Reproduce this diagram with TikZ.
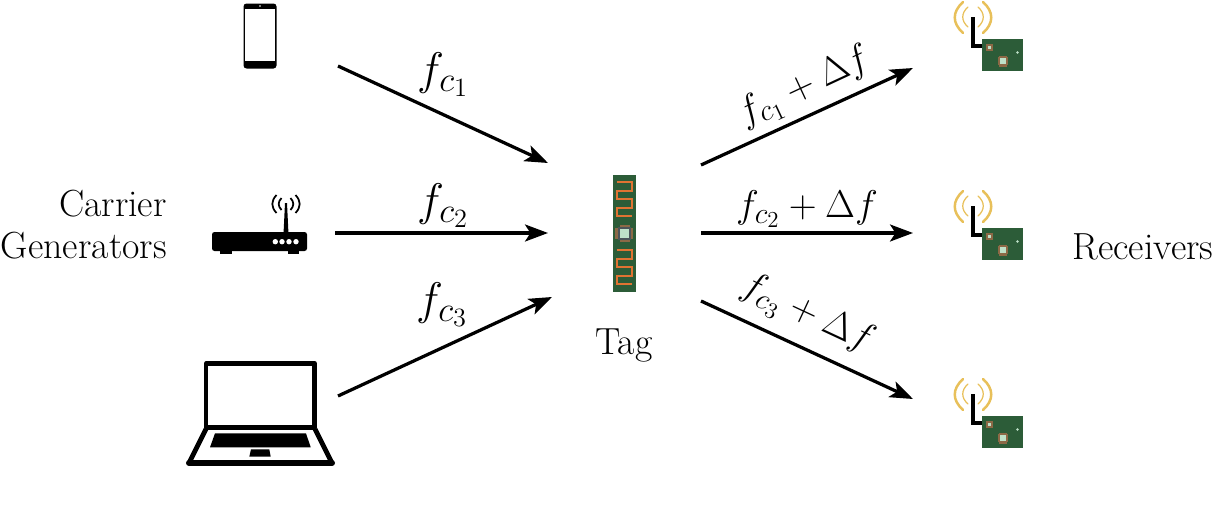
\documentclass[tikz,border=0pt]{standalone}
\usepackage{fix-cm}
\usetikzlibrary{arrows.meta}
\DeclareMathSizes{26}{26}{20}{15}
\DeclareMathSizes{22}{22}{17}{13}
\definecolor{pcbgreen}{RGB}{44,92,56}
\definecolor{traceorange}{RGB}{225,115,50}
\definecolor{waveyellow}{RGB}{232,192,90}
\definecolor{padbrown}{RGB}{140,105,70}
\definecolor{padbase}{RGB}{75,85,90}
\definecolor{chiplight}{RGB}{190,225,200}
\tikzset{
	link/.style={line width=0.065cm, -{Stealth[length=0.46cm,width=0.34cm,inset=0.11cm]}},
	lbl/.style={font=\fontsize{21.5}{24}\selectfont, inner sep=0pt, align=right},
	flbl/.style={font=\fontsize{26}{30}\selectfont, inner sep=0pt},
	dlbl/.style={font=\fontsize{22}{26}\selectfont, inner sep=0pt},
	wave/.style={draw=waveyellow, line width=0.05cm, line cap=round},
	radio/.style={line width=0.035cm},
	pics/receiver/.style={code={
		\draw [wave] (-7,-30) .. controls (-18,-20) and (-18,-9) .. (-7,1);
		\draw [wave] (13,-30) .. controls (24,-20) and (24,-9) .. (13,1);
		\draw [wave, line width=0.025cm] (-2,-25) .. controls (-9,-19) and (-9,-11) .. (-2,-5);
		\draw [wave, line width=0.025cm] (8,-25) .. controls (15,-19) and (15,-11) .. (8,-5);
		\draw [line width=0.08cm] (3,-15) -- (3,14) -- (13,14);
		\fill [pcbgreen] (12,7) rectangle (53,39);
		\fill [padbrown] (15.5,11.5) rectangle (22.5,18.5);
		\fill [chiplight] (17.5,13.5) rectangle (20.5,16.5);
		\fill [padbrown] (29,23.5) rectangle (36.5,34.5);
		\fill [padbrown] (27.5,25) rectangle (38,33);
		\fill [chiplight] (30,26) rectangle (35.5,32);
		\fill [chiplight] (47.5,20.5) circle (1.3);
	}}
}
\begin{document}
\begin{tikzpicture}[x=0.02cm, y=-0.02cm]
	\useasboundingbox (0,0) rectangle (1214,507);

	% phone
	\fill [rounded corners=0.06cm] (243.5,3.5) rectangle (276.5,68.5);
	\fill [white] (245,9) rectangle (274.7,60.7);
	\fill [white] (260,6) circle (0.9);

	% router
	\fill [rounded corners=0.05cm] (212,232) rectangle (307,251);
	\fill (220,250) rectangle (232,254);
	\fill (288,250) rectangle (299,254);
	\fill (283.6,232) -- (285,203) -- (287,203) -- (288.4,232) -- cycle;
	\foreach \dotx in {275.3,282,289,296} \fill [white] (\dotx,241.7) circle (2.7);
	\draw [radio] (276.5,195) .. controls (270.9,201) and (270.9,207) .. (276.5,213);
	\draw [radio] (295.5,195) .. controls (301.1,201) and (301.1,207) .. (295.5,213);
	\draw [radio] (281.5,198) .. controls (277.8,202) and (277.8,206) .. (281.5,210);
	\draw [radio] (290.5,198) .. controls (294.2,202) and (294.2,206) .. (290.5,210);

	% laptop
	\draw [line width=0.09cm, line join=round] (206.2,363.3) rectangle (314.7,427.5);
	\draw [line width=0.095cm, line join=round] (206,429) -- (189,463) -- (332,463) -- (315,429);
	\draw [line width=0.12cm, line cap=round] (189,463) -- (332,463);
	\fill (215,433.3) -- (306,433.3) -- (310.7,447.3) -- (210,447.3) -- cycle;
	\fill (251,449.3) -- (269.3,449.3) -- (270.7,456.7) -- (249.3,456.7) -- cycle;

	% tag
	\fill [pcbgreen] (612.7,175) rectangle (636,292);
	\draw [traceorange, line width=0.035cm] (616.7,182) -- (631.7,182) -- (631.7,190.7) -- (616.7,190.7) -- (616.7,199) -- (631.7,199) -- (631.7,207.7) -- (616.7,207.7) -- (616.7,216) -- (631.7,216);
	\draw [traceorange, line width=0.035cm] (616.7,250) -- (631.7,250) -- (631.7,259) -- (616.7,259) -- (616.7,267.3) -- (631.7,267.3) -- (631.7,275.7) -- (616.7,275.7) -- (616.7,284.3) -- (631.7,284.3);
	\fill [padbrown] (619.5,225) rectangle (629.5,227.7);
	\fill [padbrown] (619.5,239.3) rectangle (629.5,242);
	\fill [padbrown] (615.3,228) rectangle (618,238.5);
	\fill [padbrown] (630.7,228) rectangle (633.3,238.5);
	\fill [padbase] (617.8,226.8) rectangle (630.8,239.8);
	\fill [chiplight] (619.8,228.8) rectangle (628.8,237.8);

	% receivers
	\pic at (970,32) {receiver};
	\pic at (970,221) {receiver};
	\pic at (970,409) {receiver};

	% link ends
	\coordinate (s1) at (338,66);
	\coordinate (s2) at (335,233);
	\coordinate (s3) at (338,396);
	\coordinate (t1) at (548,163);
	\coordinate (t2) at (548,233);
	\coordinate (t3) at (552,297);
	\coordinate (o1) at (701,165);
	\coordinate (o2) at (701,233);
	\coordinate (o3) at (701,301);
	\coordinate (r1) at (913,68);
	\coordinate (r2) at (913,233);
	\coordinate (r3) at (913,399);

	% drawing code
	\foreach \from/\to in {s1/t1,s2/t2,s3/t3,o1/r1,o2/r2,o3/r3} \draw [link] (\from) -- (\to);

	% labels
	\node [lbl, anchor=east] (carrier) at (167,225) {Carrier\\Generators};
	\node [lbl] (tag) at (624,346) {Tag};
	\node [lbl] (receivers) at (1143,247) {Receivers};
	\node [flbl] (f1) at (443,75) {$f_{c_1}$};
	\node [flbl] (f2) at (443,206) {$f_{c_2}$};
	\node [flbl] (f3) at (442,305) {$f_{c_3}$};
	\node [dlbl, rotate=25] (d1) at (805,88) {$f_{c_1}+\Delta f$};
	\node [dlbl] (d2) at (807,209) {$f_{c_2}+\Delta f$};
	\node [dlbl, rotate=-25] (d3) at (807,315) {$f_{c_3}+\Delta f$};
\end{tikzpicture}
\end{document}
